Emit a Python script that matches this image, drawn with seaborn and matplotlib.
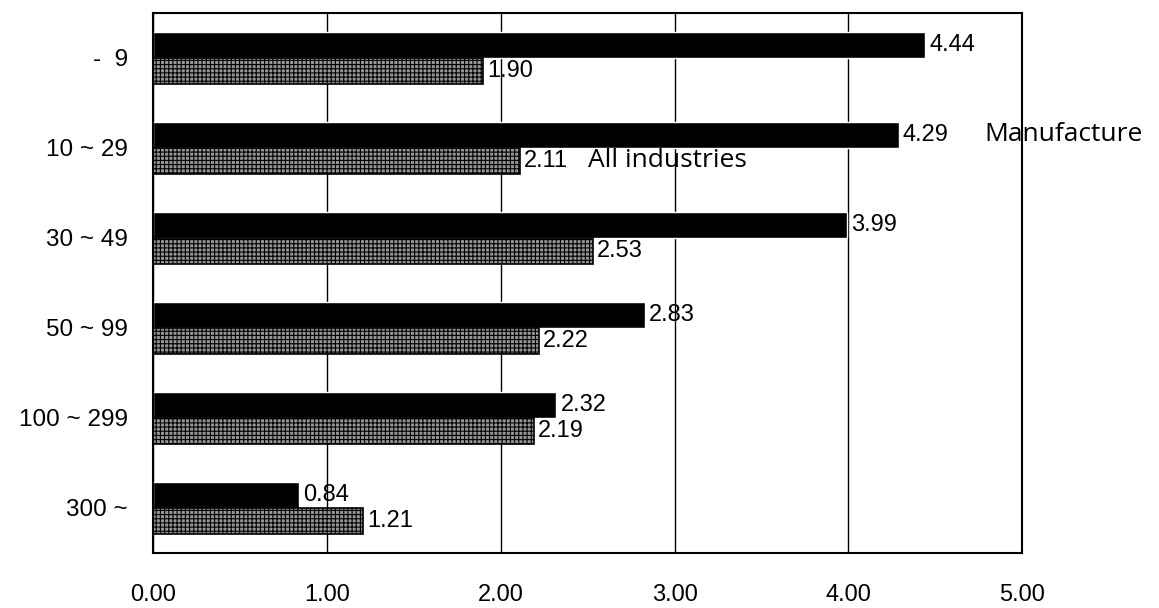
import numpy as np
import pandas as pd
import matplotlib
matplotlib.use("Agg")
import matplotlib.pyplot as plt
import seaborn as sns

categories = ["-  9", "10 ~ 29", "30 ~ 49", "50 ~ 99", "100 ~ 299", "300 ~"]
manufacture = [4.44, 4.29, 3.99, 2.83, 2.32, 0.84]
all_industries = [1.90, 2.11, 2.53, 2.22, 2.19, 1.21]
series_names = ["Manufacture", "All industries"]
x_ticks = [0, 1, 2, 3, 4, 5]

df = pd.DataFrame({
    "size": categories * 2,
    "value": manufacture + all_industries,
    "series": [series_names[0]] * len(categories) + [series_names[1]] * len(categories),
})

sns.set_style("white")
plt.rcParams["font.family"] = ["Liberation Sans", "DejaVu Sans"]
plt.rcParams["text.color"] = "black"
plt.rcParams["xtick.color"] = "black"
plt.rcParams["ytick.color"] = "black"
plt.rcParams["hatch.color"] = "#555555"
plt.rcParams["hatch.linewidth"] = 0.8

fig = plt.figure(figsize=(11.59, 6.08), dpi=100)
ax = fig.add_axes([0.132, 0.0905, 0.75, 0.8885])

sns.barplot(data=df, x="value", y="size", hue="series", orient="h",
            palette=["black", "#959595"], width=0.58, dodge=True,
            legend=False, ax=ax, saturation=1)

# gray bars: hatched with black outline
for p in ax.patches:
    if p.get_facecolor()[0] > 0.3:
        p.set_hatch("++++")
        p.set_edgecolor("black")
        p.set_linewidth(1.2)

for cont in ax.containers:
    ax.bar_label(cont, fmt="%.2f", padding=3, fontsize=17, color="black")

ax.set_xlim(0, 5)
ax.set_xticks(x_ticks)
ax.set_xticklabels([f"{v:.2f}" for v in x_ticks], fontsize=17, color="black")
ax.tick_params(axis="x", length=0, pad=22, labelcolor="black")
ax.tick_params(axis="y", length=0, pad=18, labelsize=17.5, labelcolor="black")
ax.set_yticks(np.arange(len(categories)) + 0.5, minor=True)
ax.tick_params(axis="y", which="minor", direction="in", length=5, width=1, color="black")
ax.set_xlabel("")
ax.set_ylabel("")
ax.grid(axis="x", color="black", linewidth=1)
ax.set_axisbelow(True)
for s in ax.spines.values():
    s.set_color("black")
    s.set_linewidth(1.5)

ax.text(4.78, 0.855, "Manufacture", fontsize=19, family=["Open Sans", "DejaVu Sans"],
        color="black", va="center", ha="left", clip_on=False)
ax.text(2.50, 1.145, "All industries", fontsize=19, family=["Open Sans", "DejaVu Sans"],
        color="black", va="center", ha="left")

fig.savefig("out.png", dpi=100)
